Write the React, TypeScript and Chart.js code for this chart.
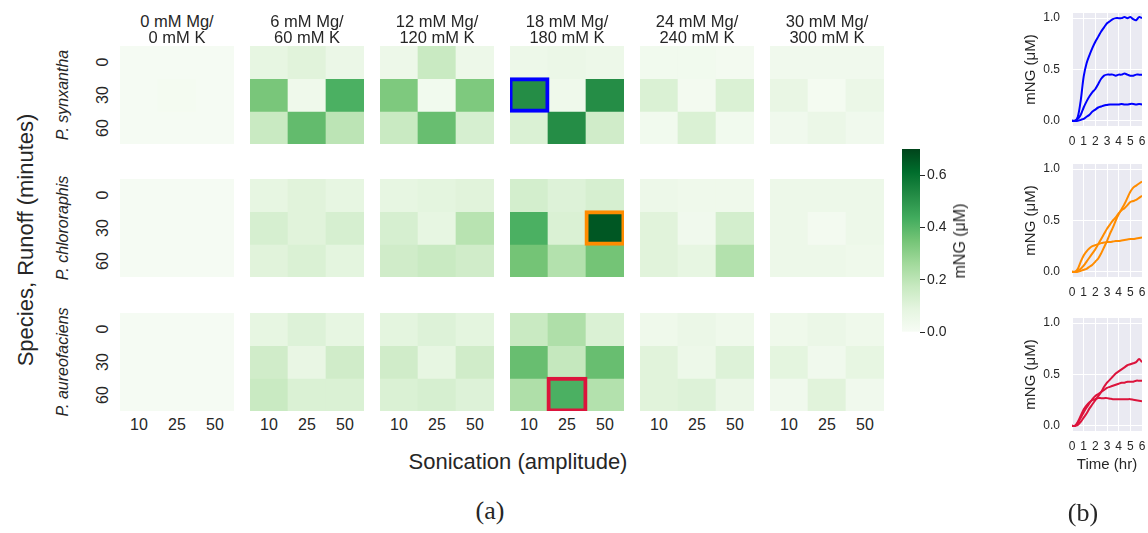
import React, { useEffect, useRef } from 'react';
import { Chart, registerables } from 'chart.js';

Chart.register(...registerables);

// ---------------- data ----------------
const mgLabels = ['0 mM Mg/', '6 mM Mg/', '12 mM Mg/', '18 mM Mg/', '24 mM Mg/', '30 mM Mg/'];
const kLabels = ['0 mM K', '60 mM K', '120 mM K', '180 mM K', '240 mM K', '300 mM K'];
const sonication = ['10', '25', '50'];
const runoff = ['0', '30', '60'];
const species = ['P. synxantha', 'P. chlororaphis', 'P. aureofaciens'];

// [condition][runoff row][sonication col], mNG (µM)
const synxanthaValues = [
  [[0.01, 0.01, 0.01], [0.01, 0.015, 0.01], [0.01, 0.01, 0.01]],
  [[0.08, 0.1, 0.06], [0.34, 0.04, 0.42], [0.17, 0.38, 0.2]],
  [[0.05, 0.17, 0.05], [0.33, 0.03, 0.33], [0.17, 0.37, 0.13]],
  [[0.05, 0.06, 0.05], [0.52, 0.04, 0.52], [0.12, 0.52, 0.15]],
  [[0.03, 0.03, 0.02], [0.12, 0.02, 0.12], [0.03, 0.12, 0.03]],
  [[0.035, 0.035, 0.035], [0.07, 0.015, 0.06], [0.035, 0.06, 0.035]],
];
const chlororaphisValues = [
  [[0.01, 0.01, 0.01], [0.01, 0.01, 0.01], [0.01, 0.01, 0.01]],
  [[0.08, 0.1, 0.08], [0.13, 0.1, 0.13], [0.1, 0.12, 0.09]],
  [[0.08, 0.09, 0.1], [0.13, 0.08, 0.21], [0.15, 0.17, 0.15]],
  [[0.14, 0.11, 0.13], [0.42, 0.12, 0.66], [0.35, 0.22, 0.35]],
  [[0.05, 0.04, 0.04], [0.1, 0.035, 0.14], [0.1, 0.08, 0.22]],
  [[0.05, 0.05, 0.05], [0.05, 0.02, 0.05], [0.05, 0.05, 0.04]],
];
const aureofaciensValues = [
  [[0.01, 0.01, 0.01], [0.01, 0.01, 0.01], [0.01, 0.01, 0.01]],
  [[0.08, 0.11, 0.08], [0.15, 0.07, 0.15], [0.17, 0.12, 0.12]],
  [[0.09, 0.11, 0.09], [0.15, 0.08, 0.15], [0.12, 0.13, 0.11]],
  [[0.17, 0.23, 0.12], [0.37, 0.18, 0.37], [0.23, 0.42, 0.22]],
  [[0.04, 0.06, 0.04], [0.1, 0.05, 0.11], [0.1, 0.11, 0.06]],
  [[0.04, 0.06, 0.04], [0.09, 0.035, 0.08], [0.035, 0.1, 0.035]],
];
const speciesValues = [synxanthaValues, chlororaphisValues, aureofaciensValues];

// highlighted cells (species, condition, runoff row, sonication col)
const highlights = [
  { sp: 0, cond: 3, row: 1, col: 0, color: '#0000ff' },
  { sp: 1, cond: 3, row: 1, col: 2, color: '#ff8c00' },
  { sp: 2, cond: 3, row: 2, col: 1, color: '#dc143c' },
];

const VMAX = 0.7;
const colorbarTicks = [0, 0.2, 0.4, 0.6];

// time courses (hr) for the highlighted cells
const timeHr = [0, 0.25, 0.5, 0.75, 1, 1.25, 1.5, 1.75, 2, 2.25, 2.5, 2.75, 3, 3.25, 3.5, 3.75, 4, 4.25, 4.5, 4.75, 5, 5.25, 5.5, 5.75, 6];
const timeTicks = [0, 1, 2, 3, 4, 5, 6];
const mngTicks = [0, 0.5, 1.0];

const synxanthaCurves = [
  [0, 0, 0.04, 0.2, 0.43, 0.56, 0.64, 0.71, 0.77, 0.82, 0.87, 0.91, 0.95, 0.97, 0.99, 1.0, 1.0, 1.0, 1.01, 1.0, 1.01, 0.99, 0.98, 1.01, 1.0],
  [0, 0, 0.02, 0.06, 0.13, 0.19, 0.24, 0.28, 0.31, 0.36, 0.41, 0.44, 0.45, 0.45, 0.45, 0.44, 0.45, 0.45, 0.46, 0.45, 0.44, 0.44, 0.45, 0.45, 0.45],
  [0, 0, 0, 0.01, 0.02, 0.04, 0.06, 0.09, 0.11, 0.13, 0.14, 0.15, 0.155, 0.16, 0.16, 0.16, 0.16, 0.165, 0.16, 0.16, 0.165, 0.165, 0.16, 0.165, 0.16],
];
const chlororaphisCurves = [
  [0, 0, 0.03, 0.1, 0.16, 0.2, 0.23, 0.25, 0.26, 0.27, 0.28, 0.285, 0.29, 0.29, 0.295, 0.3, 0.3, 0.305, 0.31, 0.315, 0.32, 0.32, 0.325, 0.33, 0.335],
  [0, 0, 0.01, 0.03, 0.06, 0.1, 0.14, 0.18, 0.22, 0.27, 0.32, 0.37, 0.42, 0.46, 0.5, 0.53, 0.57, 0.6, 0.62, 0.65, 0.68, 0.69, 0.7, 0.72, 0.74],
  [0, 0, 0, 0.01, 0.02, 0.03, 0.05, 0.07, 0.1, 0.13, 0.18, 0.24, 0.3, 0.37, 0.43, 0.5, 0.56, 0.61, 0.66, 0.72, 0.78, 0.82, 0.84, 0.86, 0.88],
];
const aureofaciensCurves = [
  [0, 0, 0.01, 0.04, 0.08, 0.12, 0.17, 0.21, 0.25, 0.29, 0.33, 0.38, 0.42, 0.45, 0.48, 0.51, 0.53, 0.55, 0.57, 0.59, 0.6, 0.61, 0.62, 0.65, 0.62],
  [0, 0, 0.03, 0.08, 0.13, 0.18, 0.22, 0.26, 0.29, 0.31, 0.33, 0.35, 0.37, 0.38, 0.39, 0.4, 0.41, 0.42, 0.42, 0.43, 0.43, 0.43, 0.44, 0.44, 0.44],
  [0, 0, 0.04, 0.1, 0.16, 0.2, 0.23, 0.25, 0.26, 0.27, 0.27, 0.27, 0.27, 0.265, 0.26, 0.26, 0.26, 0.26, 0.26, 0.26, 0.26, 0.255, 0.25, 0.245, 0.24],
];

// ---------------- style / layout ----------------
const SANS = '"Liberation Sans", Arial, sans-serif';
const SERIF = '"Liberation Serif", "DejaVu Serif", serif';
const TEXT = '#262626';
const GREENS = ['#f7fcf5', '#e5f5e0', '#c7e9c0', '#a1d99b', '#74c476', '#41ab5d', '#238b45', '#006d2c', '#00441b'];

const blockLeft = [120, 250, 380, 510, 640, 770];
const blockTop = [46, 179, 313];
const BW = 114;
const BH = 98;
const PAD = 3;

function hex(c: string) {
  return [1, 3, 5].map((i) => parseInt(c.slice(i, i + 2), 16));
}
function greens(v: number) {
  const t = Math.max(0, Math.min(1, v / VMAX)) * (GREENS.length - 1);
  const i = Math.min(GREENS.length - 2, Math.floor(t));
  const f = t - i;
  const a = hex(GREENS[i]);
  const b = hex(GREENS[i + 1]);
  const m = a.map((x, k) => Math.round(x + (b[k] - x) * f));
  return `rgb(${m[0]},${m[1]},${m[2]})`;
}

function HeatBlock({ values, left, top, hl }: any) {
  const ref = useRef<HTMLCanvasElement>(null);
  useEffect(() => {
    const datasets: any[] = runoff.map((_, ri) => ({
      data: sonication.map(() => [ri, ri + 1]),
      backgroundColor: values[ri].map((v: number) => greens(v)),
      borderWidth: 0,
      barPercentage: 1,
      categoryPercentage: 1,
      grouped: false,
      order: 1,
    }));
    if (hl) {
      datasets.push({
        data: sonication.map((_, ci) => (ci === hl.col ? [hl.row, hl.row + 1] : null)),
        backgroundColor: 'rgba(0,0,0,0)',
        borderColor: hl.color,
        borderWidth: 1,
        borderSkipped: false,
        inflateAmount: 1.5,
        barPercentage: 1,
        categoryPercentage: 1,
        grouped: false,
        order: 0,
      });
    }
    const chart = new Chart(ref.current!, {
      type: 'bar',
      data: { labels: sonication, datasets },
      options: {
        animation: false,
        responsive: false,
        maintainAspectRatio: false,
        layout: { padding: PAD },
        plugins: { legend: { display: false }, tooltip: { enabled: false } },
        scales: {
          x: { display: false, offset: true },
          y: { display: false, min: 0, max: runoff.length, reverse: true },
        },
      } as any,
    });
    return () => chart.destroy();
  }, []);
  return (
    <canvas
      ref={ref}
      width={BW + 2 * PAD}
      height={BH + 2 * PAD}
      style={{ position: 'absolute', left: left - PAD, top: top - PAD, width: BW + 2 * PAD, height: BH + 2 * PAD }}
    />
  );
}

function Colorbar() {
  const ref = useRef<HTMLCanvasElement>(null);
  useEffect(() => {
    const chart = new Chart(ref.current!, {
      type: 'bar',
      data: {
        labels: [''],
        datasets: [
          {
            data: [[0, VMAX]] as any,
            backgroundColor: (ctx: any) => {
              const ca = ctx.chart.chartArea;
              if (!ca) return GREENS[4];
              const g = ctx.chart.ctx.createLinearGradient(0, ca.bottom, 0, ca.top);
              GREENS.forEach((c, i) => g.addColorStop(i / (GREENS.length - 1), c));
              return g;
            },
            barPercentage: 1,
            categoryPercentage: 1,
            borderWidth: 0,
          },
        ],
      },
      options: {
        animation: false,
        responsive: false,
        maintainAspectRatio: false,
        layout: { padding: { top: 9, bottom: 8, left: 0, right: 0 } },
        plugins: { legend: { display: false }, tooltip: { enabled: false } },
        scales: {
          x: { display: false },
          y: {
            position: 'right',
            min: 0,
            max: VMAX,
            afterBuildTicks: (s: any) => {
              s.ticks = colorbarTicks.map((v) => ({ value: v }));
            },
            afterFit: (s: any) => {
              s.width = 42;
              s.paddingTop = 0;
              s.paddingBottom = 0;
            },
            border: { display: false },
            grid: { drawOnChartArea: false, drawTicks: true, tickLength: 5, tickColor: TEXT, tickWidth: 1 },
            ticks: {
              padding: 2,
              color: TEXT,
              font: { family: SANS, size: 14 },
              callback: (v: any) => Number(v).toFixed(1),
            },
          },
        },
      } as any,
    });
    return () => chart.destroy();
  }, []);
  return <canvas ref={ref} width={60} height={200} style={{ position: 'absolute', left: 902, top: 140, width: 60, height: 200 }} />;
}

const bgPlugin = {
  id: 'darkgridBg',
  beforeDraw(chart: any) {
    const { ctx, chartArea } = chart;
    if (!chartArea) return;
    ctx.save();
    ctx.fillStyle = '#eaeaf2';
    ctx.fillRect(chartArea.left, chartArea.top, chartArea.right - chartArea.left, chartArea.bottom - chartArea.top);
    ctx.restore();
  },
};

function TimeCourse({ curves, color, top, height, padTop, xHeight, showTitle }: any) {
  const ref = useRef<HTMLCanvasElement>(null);
  useEffect(() => {
    const chart = new Chart(ref.current!, {
      type: 'line',
      data: {
        datasets: curves.map((c: number[]) => ({
          data: timeHr.map((t, i) => ({ x: t, y: c[i] })),
          borderColor: color,
          borderWidth: 2,
          pointRadius: 0,
          tension: 0.3,
          fill: false,
        })),
      },
      options: {
        animation: false,
        responsive: false,
        maintainAspectRatio: false,
        layout: { padding: { top: padTop, right: 6, left: 0, bottom: 0 } },
        plugins: { legend: { display: false }, tooltip: { enabled: false } },
        scales: {
          x: {
            type: 'linear',
            min: 0,
            max: 6,
            afterBuildTicks: (s: any) => {
              s.ticks = timeTicks.map((v) => ({ value: v }));
            },
            afterFit: (s: any) => {
              s.height = xHeight;
              s.paddingLeft = 0;
              s.paddingRight = 0;
            },
            border: { display: false },
            grid: { color: '#ffffff', lineWidth: 1, drawTicks: false },
            ticks: { padding: 8, color: TEXT, maxRotation: 0, autoSkip: false, font: { family: SANS, size: 12 } },
            title: {
              display: !!showTitle,
              text: 'Time (hr)',
              color: TEXT,
              font: { family: SANS, size: 15 },
              padding: { top: 2, bottom: 4 },
            },
          },
          y: {
            min: -0.05,
            max: 1.05,
            afterBuildTicks: (s: any) => {
              s.ticks = mngTicks.map((v) => ({ value: v }));
            },
            afterFit: (s: any) => {
              s.width = 54;
              s.paddingTop = 0;
              s.paddingBottom = 0;
            },
            border: { display: false },
            grid: { color: '#ffffff', lineWidth: 1, drawTicks: false },
            ticks: {
              padding: 12,
              color: TEXT,
              font: { family: SANS, size: 12 },
              callback: (v: any) => Number(v).toFixed(1),
            },
            title: {
              display: true,
              text: 'mNG (μM)',
              color: TEXT,
              font: { family: SANS, size: 15 },
              padding: { top: 4, bottom: 4 },
            },
          },
        },
      } as any,
      plugins: [bgPlugin],
    });
    return () => chart.destroy();
  }, []);
  return <canvas ref={ref} width={130} height={height} style={{ position: 'absolute', left: 1018, top, width: 130, height }} />;
}

function Label({ x, y, text, size, rotate = false, italic = false, family = SANS }: any) {
  return (
    <div
      style={{
        position: 'absolute',
        left: x,
        top: y,
        transform: `translate(-50%, -50%)${rotate ? ' rotate(-90deg)' : ''}`,
        fontSize: size,
        fontFamily: family,
        fontStyle: italic ? 'italic' : 'normal',
        color: TEXT,
        whiteSpace: 'nowrap',
        lineHeight: 1,
      }}
    >
      {text}
    </div>
  );
}

export default function App() {
  const labels: any[] = [];
  mgLabels.forEach((mg, c) => {
    const cx = blockLeft[c] + BW / 2;
    labels.push(<Label key={`mg${c}`} x={cx} y={20.5} text={mg} size={16.5} />);
    labels.push(<Label key={`k${c}`} x={cx} y={37} text={kLabels[c]} size={16.5} />);
    sonication.forEach((s, ci) => {
      labels.push(<Label key={`s${c}${ci}`} x={blockLeft[c] + (BW / 3) * (ci + 0.5)} y={425} text={s} size={16} />);
    });
  });
  species.forEach((sp, si) => {
    labels.push(<Label key={`sp${si}`} x={63} y={blockTop[si] + BH / 2} text={sp} size={16} rotate italic />);
    runoff.forEach((r, ri) => {
      labels.push(<Label key={`r${si}${ri}`} x={103} y={blockTop[si] + (BH / 3) * (ri + 0.5)} text={r} size={16} rotate />);
    });
  });

  const blocks: any[] = [];
  speciesValues.forEach((sv, si) => {
    sv.forEach((vals, c) => {
      const hl = highlights.find((h) => h.sp === si && h.cond === c);
      blocks.push(<HeatBlock key={`b${si}${c}`} values={vals} left={blockLeft[c]} top={blockTop[si]} hl={hl} />);
    });
  });

  return (
    <div style={{ position: 'fixed', left: 0, top: 0, width: 1148, height: 533, background: '#ffffff', overflow: 'hidden' }}>
      {blocks}
      {labels}
      <Label x={26} y={240} text="Species, Runoff (minutes)" size={22} rotate />
      <Label x={518} y={462} text="Sonication (amplitude)" size={22} />
      <Colorbar />
      <Label x={960} y={241} text="mNG (μM)" size={16} rotate />
      <TimeCourse curves={synxanthaCurves} color="#0000ff" top={0} height={155} padTop={13} xHeight={29} />
      <TimeCourse curves={chlororaphisCurves} color="#ff8c00" top={150} height={156} padTop={14} xHeight={29} />
      <TimeCourse curves={aureofaciensCurves} color="#dc143c" top={300} height={178} padTop={18} xHeight={47} showTitle />
      <Label x={490} y={511} text="(a)" size={26} family={SERIF} />
      <Label x={1083} y={513} text="(b)" size={26} family={SERIF} />
    </div>
  );
}
